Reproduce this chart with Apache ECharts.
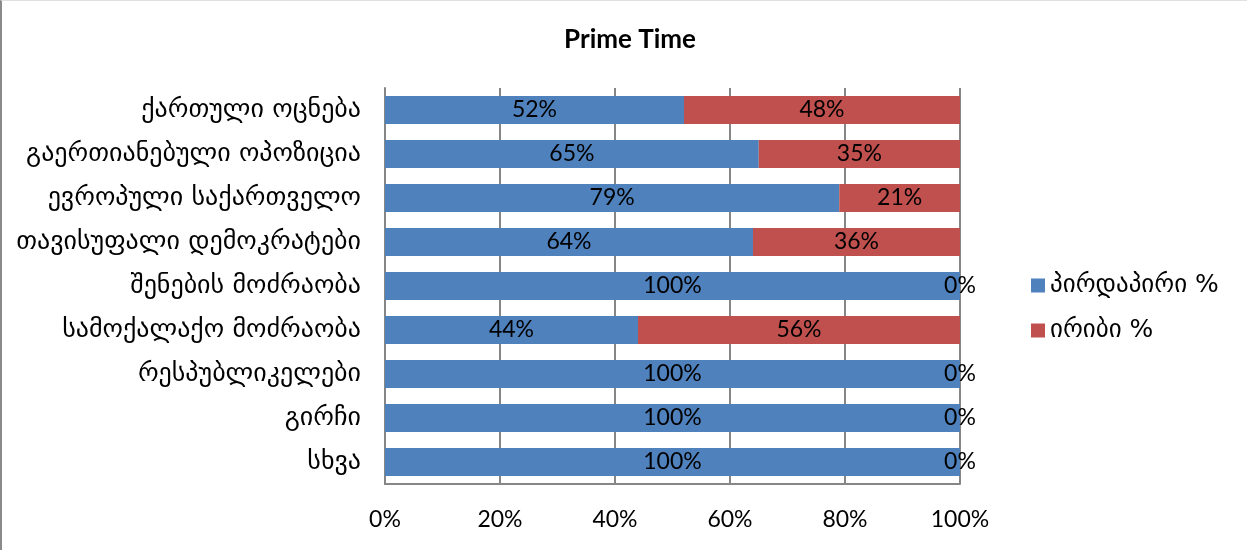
<!DOCTYPE html>
<html>
<head>
<meta charset="utf-8">
<script src="https://cdn.jsdelivr.net/npm/echarts@6/dist/echarts.min.js"></script>
<style>
html,body{margin:0;padding:0;background:#fff;}
#wrap{position:absolute;left:0;top:0;width:1247px;height:550px;box-sizing:border-box;border-left:2px solid #8a8a8a;border-top:1px solid #e0e0e0;}
#chart{width:1245px;height:549px;}
</style>
</head>
<body>
<div id="wrap"><div id="chart"></div></div>
<script>
const categories = ["ქართული ოცნება","გაერთიანებული ოპოზიცია","ევროპული საქართველო","თავისუფალი დემოკრატები","შენების მოძრაობა","სამოქალაქო მოძრაობა","რესპუბლიკელები","გირჩი","სხვა"];
const directValues = [52,65,79,64,100,44,100,100,100];
const indirectValues = [48,35,21,36,0,56,0,0,0];
const seriesNames = ["პირდაპირი %","ირიბი %"];
const xTicks = [0,20,40,60,80,100];

const numFont = "Lato, 'Open Sans', sans-serif";
const geoFont = "'DejaVu Sans', sans-serif";

const chart = echarts.init(document.getElementById('chart'), null, {renderer:'canvas'});
const labelCfg = {show:true, position:'inside', formatter:'{c}%', color:'#000', fontSize:23, fontFamily:numFont};
chart.setOption({
  animation:false,
  title:{text:'Prime Time', left:623, textAlign:'center', top:21, textStyle:{fontFamily:numFont, fontWeight:'bold', fontSize:26, color:'#000'}},
  grid:{left:383, right:287, top:87, bottom:66, containLabel:false},
  legend:{orient:'vertical', left:1024, top:267, itemGap:20, itemWidth:14, itemHeight:14, icon:'rect',
    textStyle:{fontFamily:geoFont, fontSize:25, color:'#000'}, data:seriesNames},
  xAxis:{type:'value', min:0, max:100, interval:20,
    axisLabel:{formatter:v=>v+'%', fontFamily:numFont, fontSize:23, color:'#000', margin:24},
    axisLine:{show:true, lineStyle:{color:'#868686', width:2}},
    axisTick:{show:false},
    splitLine:{show:true, lineStyle:{color:'#868686', width:2}}},
  yAxis:{type:'category', data:categories, inverse:true,
    axisLabel:{fontFamily:geoFont, fontSize:26, color:'#000', margin:24},
    axisLine:{show:true, lineStyle:{color:'#868686', width:2}},
    axisTick:{show:false}},
  series:[
    {name:seriesNames[0], type:'bar', stack:'t', data:directValues, barCategoryGap:'36%', itemStyle:{color:'#4F81BD'}, label:labelCfg},
    {name:seriesNames[1], type:'bar', stack:'t', data:indirectValues, barCategoryGap:'36%', itemStyle:{color:'#C0504D'}, label:labelCfg}
  ]
});
</script>
</body>
</html>
